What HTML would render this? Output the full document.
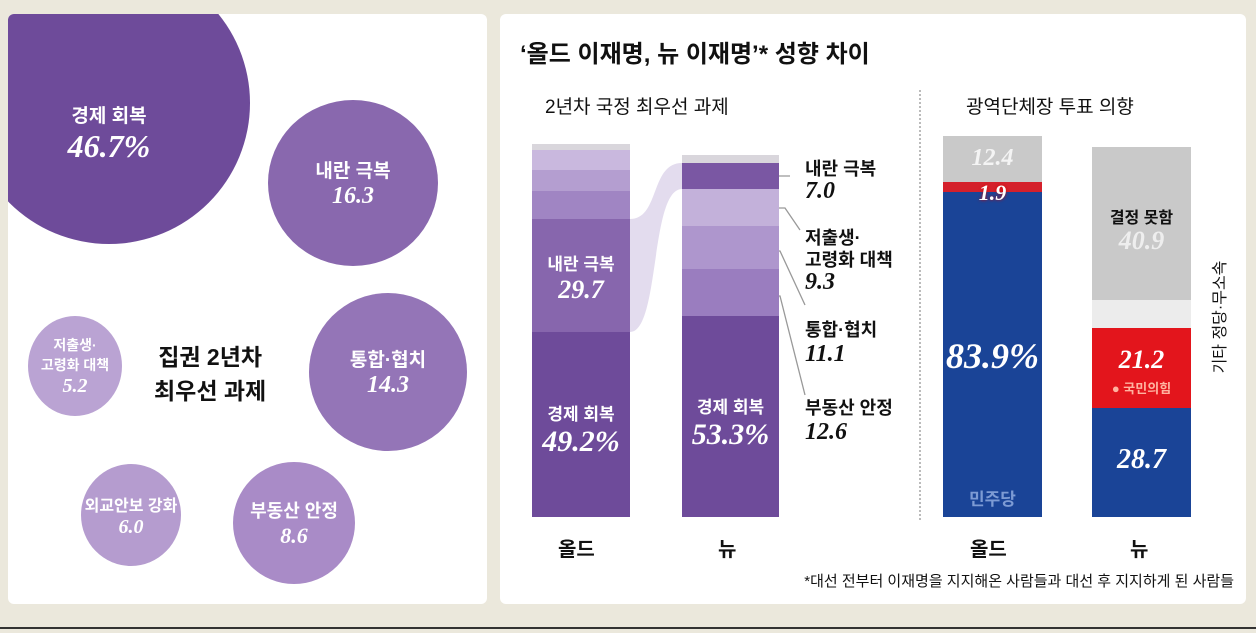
<!DOCTYPE html>
<html><head><meta charset="utf-8"><style>
*{margin:0;padding:0;box-sizing:border-box}
body{width:1256px;height:633px;background:#ebe8dc;position:relative;overflow:hidden;font-family:"Liberation Sans","Noto Sans CJK KR",sans-serif}
.p{position:absolute;background:#fff;border-radius:6px;overflow:hidden}
.c{position:absolute;border-radius:50%;color:#fff;text-align:center;display:flex;flex-direction:column;justify-content:center;align-items:center;font-weight:bold}
.n{font-family:"Liberation Serif",serif;font-style:italic;font-weight:bold}
.a{position:absolute}
.t{position:absolute;font-weight:bold;color:#111;white-space:nowrap}
.w{color:#fff;text-align:center;position:absolute;font-weight:bold}
</style></head><body>
<div class="p" style="left:8px;top:14px;width:479px;height:590px">
 <div class="c" style="left:-40px;top:-52px;width:282px;height:282px;background:#6e4b9a;padding-top:60px"><div style="font-size:19px">경제 회복</div><div class="n" style="font-size:32px">46.7%</div></div>
 <div class="c" style="left:260px;top:86px;width:170px;height:166px;background:#8968ae"><div style="font-size:19px">내란 극복</div><div class="n" style="font-size:24px">16.3</div></div>
 <div class="c" style="left:301px;top:279px;width:158px;height:158px;background:#9475b7"><div style="font-size:19px">통합·협치</div><div class="n" style="font-size:24px">14.3</div></div>
 <div class="c" style="left:20px;top:302px;width:94px;height:100px;background:#baa3d3"><div style="font-size:14px">저출생·</div><div style="font-size:14px">고령화 대책</div><div class="n" style="font-size:20px">5.2</div></div>
 <div class="c" style="left:73px;top:450px;width:100px;height:102px;background:#b59ccf"><div style="font-size:16px">외교안보 강화</div><div class="n" style="font-size:20px">6.0</div></div>
 <div class="c" style="left:225px;top:448px;width:122px;height:122px;background:#a98bc7"><div style="font-size:18px">부동산 안정</div><div class="n" style="font-size:22px">8.6</div></div>
 <div class="t" style="left:146px;top:326px;font-size:23px;line-height:34px;text-align:center">집권 2년차<br>최우선 과제</div>
</div>
<div class="p" style="left:500px;top:14px;width:746px;height:590px"></div>
<div class="t" style="left:520px;top:34px;font-size:24px">‘올드 이재명, 뉴 이재명’* 성향 차이</div>
<div class="t" style="left:545px;top:92px;font-size:19px;font-weight:normal">2년차 국정 최우선 과제</div>
<div class="t" style="left:966px;top:92px;font-size:19px;font-weight:normal">광역단체장 투표 의향</div>
<div class="a" style="left:919px;top:90px;height:430px;border-left:2px dotted #bbb"></div>
<svg class="a" style="left:0;top:0" width="1256" height="633">
<path d="M630 219 C660 219,650 163,682 163 L682 189 C650 189,660 332,630 332 Z" fill="#e3dcee"/>
<g stroke="#999" stroke-width="1.3" fill="none">
<path d="M765 176 H790"/><path d="M765 208 H785 L800 230"/><path d="M765 251 H780 L805 305"/><path d="M765 296 H780 L805 395"/>
<path d="M1165 316 H1190"/>
</g>
</svg>
<div class="a" style="left:532px;top:144px;width:98px;height:6px;background:#d9d6dc"></div>
<div class="a" style="left:532px;top:150px;width:98px;height:20px;background:#c9b8de"></div>
<div class="a" style="left:532px;top:170px;width:98px;height:21px;background:#b49ed0"></div>
<div class="a" style="left:532px;top:191px;width:98px;height:28px;background:#a085c3"></div>
<div class="a" style="left:532px;top:219px;width:98px;height:113px;background:#8766ad"></div>
<div class="a" style="left:532px;top:332px;width:98px;height:185px;background:#6e4b9a"></div>
<div class="w" style="left:532px;top:250px;width:98px;font-size:17px">내란 극복<div class="n" style="font-size:26px">29.7</div></div>
<div class="w" style="left:532px;top:400px;width:98px;font-size:17px">경제 회복<div class="n" style="font-size:30px">49.2%</div></div>
<div class="a" style="left:682px;top:155px;width:97px;height:8px;background:#d9d6dc"></div>
<div class="a" style="left:682px;top:163px;width:97px;height:26px;background:#7a57a3"></div>
<div class="a" style="left:682px;top:189px;width:97px;height:37px;background:#c3b1da"></div>
<div class="a" style="left:682px;top:226px;width:97px;height:43px;background:#ae96cd"></div>
<div class="a" style="left:682px;top:269px;width:97px;height:47px;background:#9a7dbf"></div>
<div class="a" style="left:682px;top:316px;width:97px;height:201px;background:#6e4b9a"></div>
<div class="w" style="left:682px;top:393px;width:97px;font-size:17px">경제 회복<div class="n" style="font-size:30px">53.3%</div></div>
<div class="t" style="left:805px;top:158px;font-size:18px;line-height:22px">내란 극복<br><span class="n" style="font-size:24px">7.0</span></div>
<div class="t" style="left:805px;top:227px;font-size:18px;line-height:22px">저출생·<br>고령화 대책<br><span class="n" style="font-size:24px">9.3</span></div>
<div class="t" style="left:805px;top:318px;font-size:18px;line-height:24px">통합·협치<br><span class="n" style="font-size:24px">11.1</span></div>
<div class="t" style="left:805px;top:396px;font-size:18px;line-height:24px">부동산 안정<br><span class="n" style="font-size:24px">12.6</span></div>
<div class="a" style="left:943px;top:136px;width:99px;height:46px;background:#c9c9c9"></div>
<div class="a" style="left:943px;top:182px;width:99px;height:10px;background:#d4202b"></div>
<div class="a" style="left:943px;top:192px;width:99px;height:325px;background:#1a4497"></div>
<div class="w n" style="left:943px;top:145px;width:99px;font-size:24px;color:#f4f4f4">12.4</div>
<div class="w n" style="left:943px;top:180px;width:99px;font-size:22px;color:#fff;text-shadow:0 0 3px #c00">1.9</div>
<div class="w n" style="left:943px;top:335px;width:99px;font-size:36px">83.9%</div>
<div class="w" style="left:943px;top:485px;width:99px;font-size:17px;color:#7d9bd4">민주당</div>
<div class="a" style="left:1092px;top:147px;width:99px;height:153px;background:#c9c9c9"></div>
<div class="a" style="left:1092px;top:300px;width:99px;height:28px;background:#ececec"></div>
<div class="a" style="left:1092px;top:328px;width:99px;height:80px;background:#e3151c"></div>
<div class="a" style="left:1092px;top:408px;width:99px;height:109px;background:#1a4497"></div>
<div class="t" style="left:1092px;top:204px;width:99px;text-align:center;font-size:16px">결정 못함</div>
<div class="w n" style="left:1092px;top:226px;width:99px;font-size:26px;color:#eee">40.9</div>
<div class="w n" style="left:1092px;top:345px;width:99px;font-size:26px">21.2</div>
<div class="w" style="left:1092px;top:378px;width:99px;font-size:13px;color:#ffb3a0">● 국민의힘</div>
<div class="w n" style="left:1092px;top:444px;width:99px;font-size:28px">28.7</div>
<div class="t" style="left:1158px;top:305px;width:120px;text-align:center;font-size:16px;font-weight:normal;transform:rotate(-90deg)">기타 정당·무소속</div>
<div class="t" style="left:558px;top:533px;font-size:20px">올드</div>
<div class="t" style="left:718px;top:533px;font-size:20px">뉴</div>
<div class="t" style="left:970px;top:533px;font-size:20px">올드</div>
<div class="t" style="left:1130px;top:533px;font-size:20px">뉴</div>
<div class="t" style="right:22px;top:570px;font-size:15px;font-weight:normal">*대선 전부터 이재명을 지지해온 사람들과 대선 후 지지하게 된 사람들</div>
<div class="a" style="left:0;top:627px;width:1256px;height:2px;background:#333"></div>
</body></html>
